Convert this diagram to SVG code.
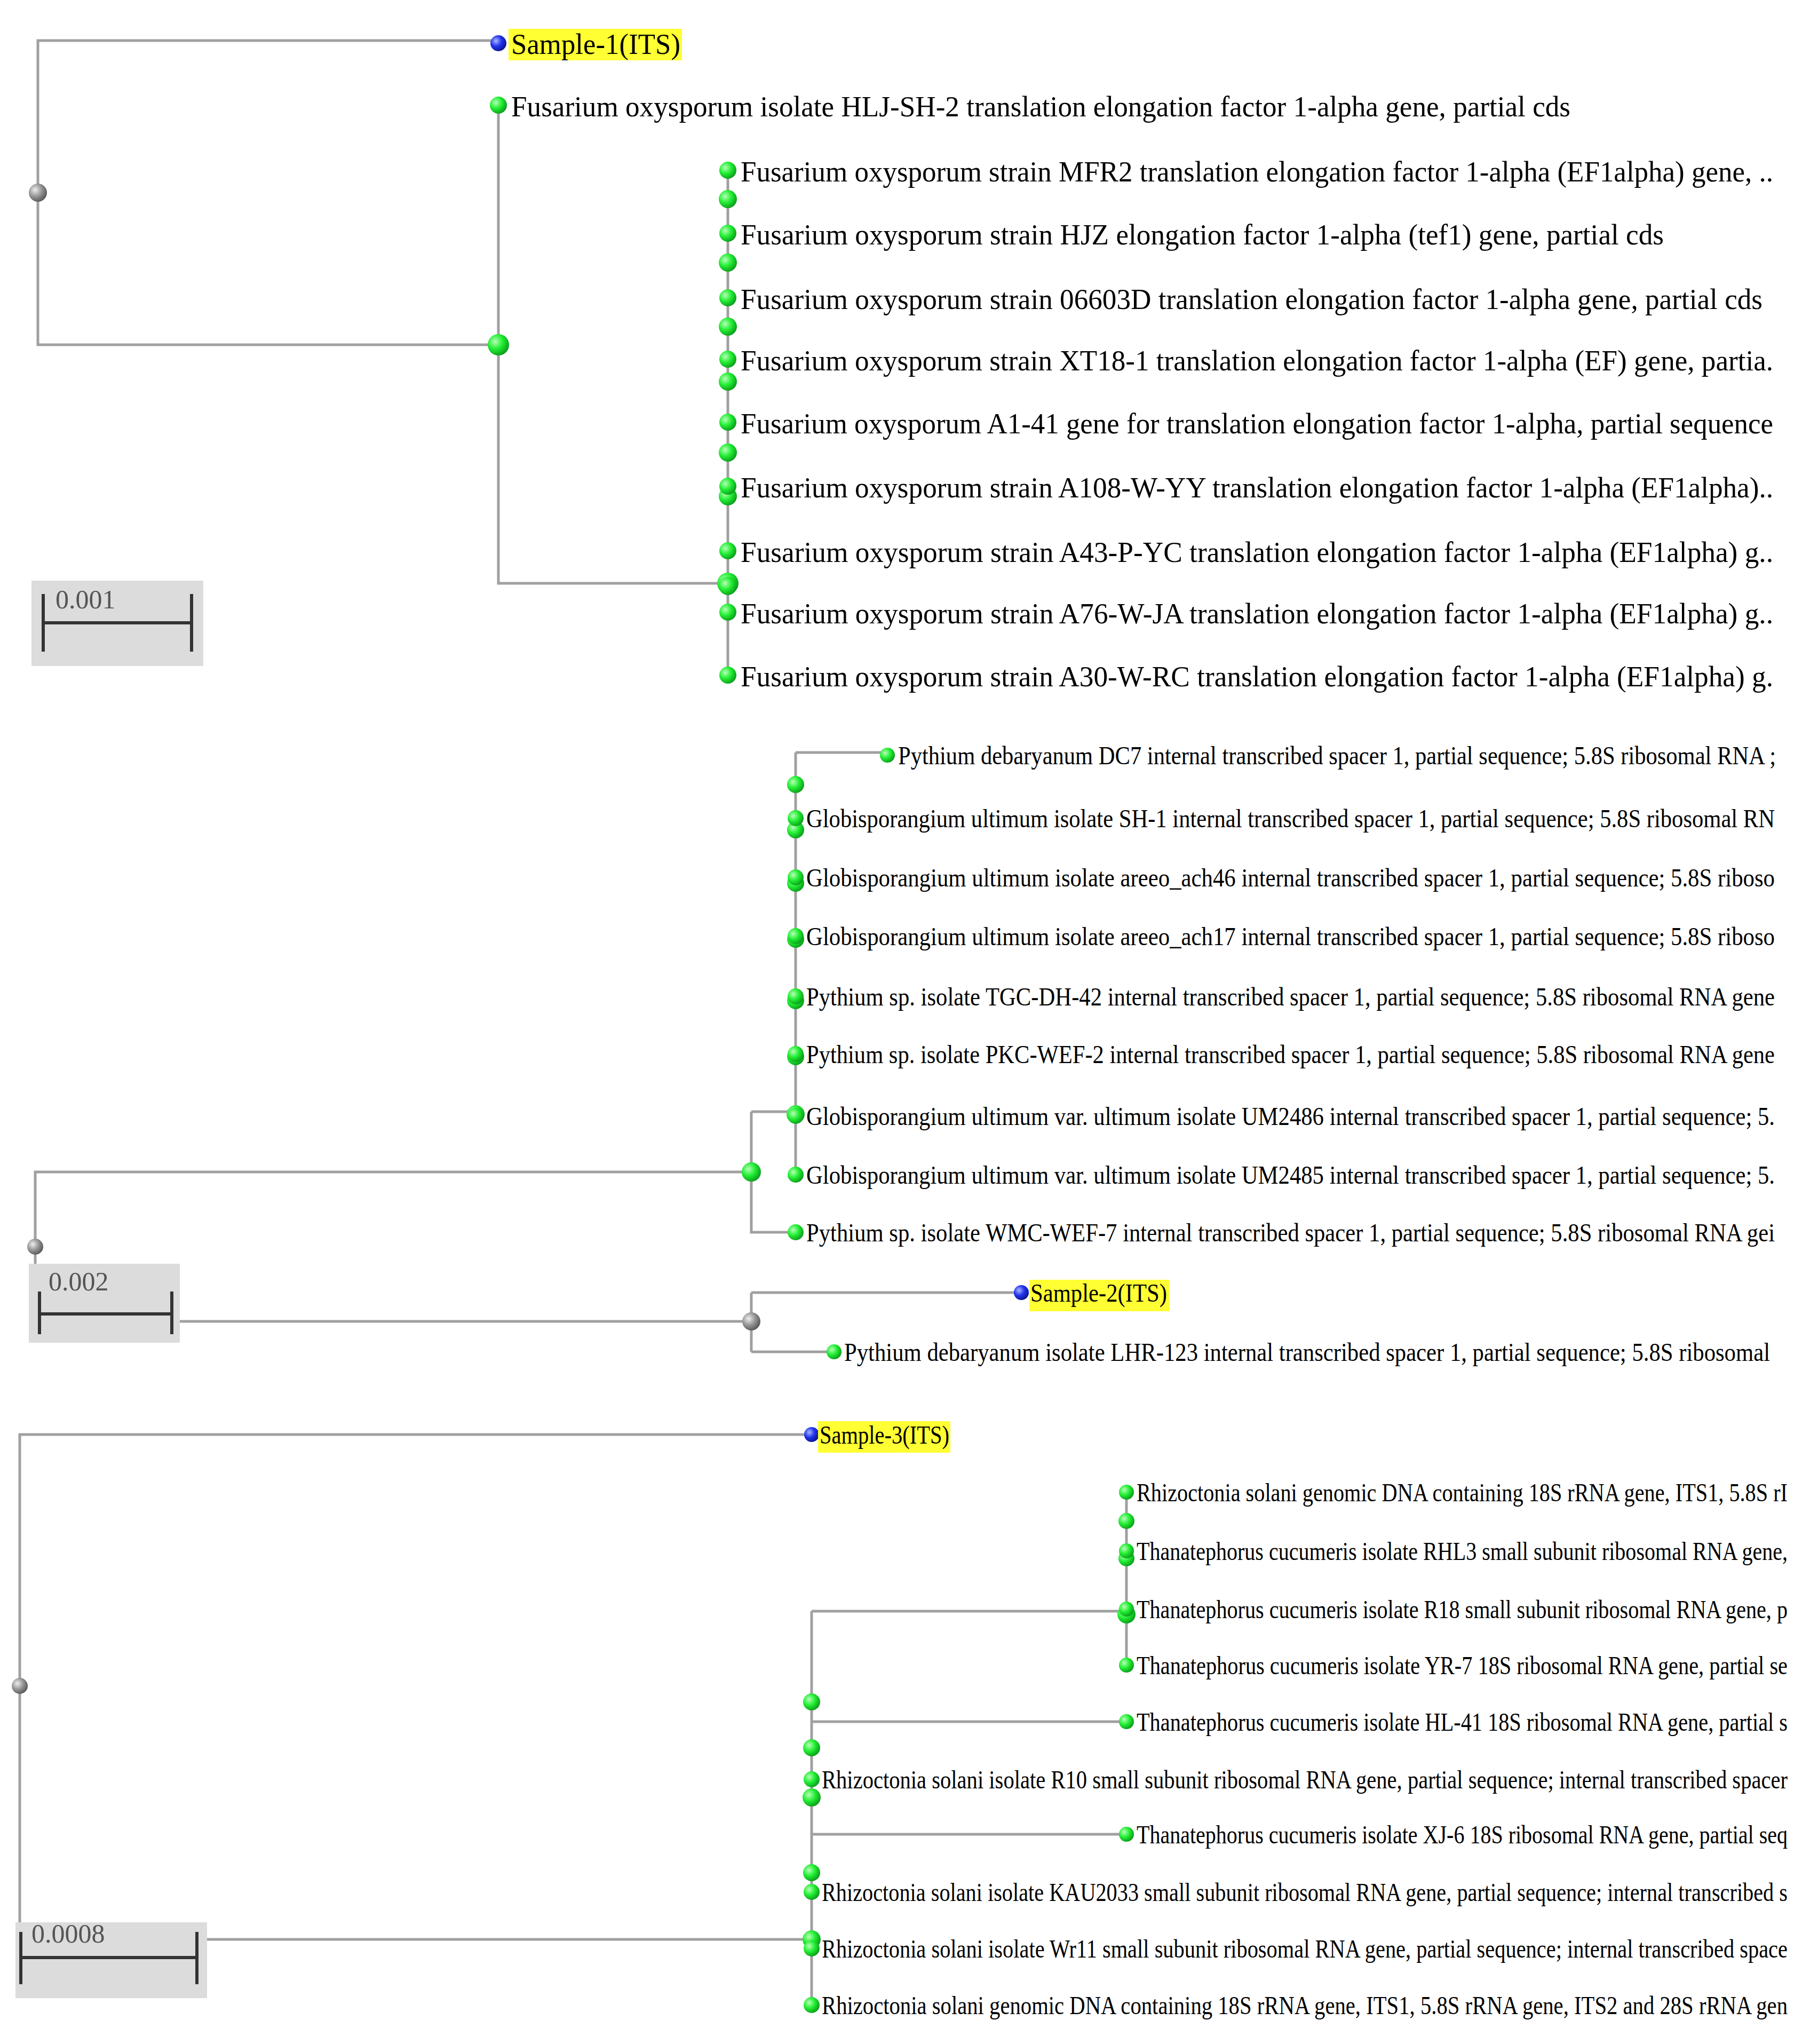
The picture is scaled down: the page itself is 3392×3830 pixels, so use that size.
<svg xmlns="http://www.w3.org/2000/svg" width="3392" height="3830" viewBox="0 0 3392 3830">
<style>
.ln{stroke:#a0a0a0;stroke-width:5;fill:none}
.g{fill:url(#gg)}
.b{fill:url(#bg)}
.k{fill:url(#kg)}
.t1{font-family:"Liberation Serif",serif;font-size:54px;fill:#000}
.t2{font-family:"Liberation Serif",serif;font-size:48px;fill:#000}
.hl{fill:#ffff33}
.sb{fill:#dcdcdc}
.bar{stroke:#333;stroke-width:6;fill:none}
.st{font-family:"Liberation Serif",serif;font-size:50px;fill:#555}
</style>
<defs>
<radialGradient id="gg" cx="0.35" cy="0.35" r="0.7"><stop offset="0" stop-color="#b8ffb8"/><stop offset="0.5" stop-color="#22ee33"/><stop offset="1" stop-color="#0a9a1a"/></radialGradient>
<radialGradient id="bg" cx="0.35" cy="0.35" r="0.7"><stop offset="0" stop-color="#aab8ff"/><stop offset="0.5" stop-color="#2233ee"/><stop offset="1" stop-color="#0a1488"/></radialGradient>
<radialGradient id="kg" cx="0.35" cy="0.35" r="0.7"><stop offset="0" stop-color="#eeeeee"/><stop offset="0.5" stop-color="#999999"/><stop offset="1" stop-color="#555555"/></radialGradient>
</defs>
<rect width="3392" height="3830" fill="#fff"/>
<g id="connectors">
<path class="ln" d="M71,361 V76 H934 M71,361 V646 H934 M934,197 V1093 H1364 M1364,319 V1265"/>
<g transform="translate(0,-10)">
<path class="ln" d="M66,2346 V2206 H1408 M66,2346 V2486 H1408 M1408,2093 V2319 H1491 M1408,2093 H1491 M1491,1420 V2211 M1491,1420 H1663 M1408,2432 V2543 M1408,2432 H1914 M1408,2543 H1563"/>
<path class="ln" d="M37,3169 V2698 H1521 M37,3169 V3644 H1521 M1521,3029 V3767 M1521,3029 H2111 M2111,2806 V3130 M1521,3236 H2111 M1521,3447 H2111"/>
</g>
</g>
<g id="scalebars">
<rect class="sb" x="59" y="1088" width="322" height="160"/>
<text class="st" x="104" y="1140">0.001</text>
<path class="bar" d="M81,1167 H359 M81,1113 V1221 M359,1113 V1221"/>
<g transform="translate(0,-10)">
<rect class="sb" x="54" y="2378" width="283" height="148"/>
<text class="st" x="91" y="2428">0.002</text>
<path class="bar" d="M74,2472 H322 M74,2430 V2510 M322,2430 V2510"/>
<rect class="sb" x="29" y="3612" width="359" height="142"/>
<text class="st" x="59" y="3650">0.0008</text>
<path class="bar" d="M39,3678 H369 M39,3630 V3728 M369,3630 V3728"/>
</g>
</g>
<g id="panel1">
<circle class="k" cx="71" cy="361" r="17"/>
<g id="s1"><circle class="b" cx="934" cy="81" r="15"/><rect class="hl" x="953" y="54" width="325" height="59"/><text class="t1" x="958" y="101" textLength="317" lengthAdjust="spacingAndGlyphs">Sample-1(ITS)</text></g>
<g id="n1"><circle class="g" cx="934" cy="197" r="16"/><text class="t1" x="958" y="218" textLength="1985" lengthAdjust="spacingAndGlyphs">Fusarium oxysporum isolate HLJ-SH-2 translation elongation factor 1-alpha gene, partial cds</text></g>
<circle class="g" cx="934" cy="646" r="20"/>
<circle class="g" cx="1364" cy="1093" r="20"/>
<g class="g"><circle cx="1364" cy="373" r="17"/><circle cx="1364" cy="492" r="17"/><circle cx="1364" cy="612" r="17"/><circle cx="1364" cy="715" r="17"/><circle cx="1364" cy="848" r="17"/><circle cx="1364" cy="930" r="17"/><circle cx="1364" cy="1098" r="17"/></g>
<g id="f1"><circle class="g" cx="1364" cy="319" r="16"/><text class="t1" x="1388" y="340" textLength="1935" lengthAdjust="spacingAndGlyphs">Fusarium oxysporum strain MFR2 translation elongation factor 1-alpha (EF1alpha) gene, ..</text></g>
<g id="f2"><circle class="g" cx="1364" cy="437" r="16"/><text class="t1" x="1388" y="458" textLength="1730" lengthAdjust="spacingAndGlyphs">Fusarium oxysporum strain HJZ elongation factor 1-alpha (tef1) gene, partial cds</text></g>
<g id="f3"><circle class="g" cx="1364" cy="558" r="16"/><text class="t1" x="1388" y="579" textLength="1915" lengthAdjust="spacingAndGlyphs">Fusarium oxysporum strain 06603D translation elongation factor 1-alpha gene, partial cds</text></g>
<g id="f4"><circle class="g" cx="1364" cy="673" r="16"/><text class="t1" x="1388" y="694" textLength="1935" lengthAdjust="spacingAndGlyphs">Fusarium oxysporum strain XT18-1 translation elongation factor 1-alpha (EF) gene, partia.</text></g>
<g id="f5"><circle class="g" cx="1364" cy="791" r="16"/><text class="t1" x="1388" y="812" textLength="1935" lengthAdjust="spacingAndGlyphs">Fusarium oxysporum A1-41 gene for translation elongation factor 1-alpha, partial sequence</text></g>
<g id="f6"><circle class="g" cx="1364" cy="911" r="16"/><text class="t1" x="1388" y="932" textLength="1935" lengthAdjust="spacingAndGlyphs">Fusarium oxysporum strain A108-W-YY translation elongation factor 1-alpha (EF1alpha)..</text></g>
<g id="f7"><circle class="g" cx="1364" cy="1032" r="16"/><text class="t1" x="1388" y="1053" textLength="1935" lengthAdjust="spacingAndGlyphs">Fusarium oxysporum strain A43-P-YC translation elongation factor 1-alpha (EF1alpha) g..</text></g>
<g id="f8"><circle class="g" cx="1364" cy="1147" r="16"/><text class="t1" x="1388" y="1168" textLength="1935" lengthAdjust="spacingAndGlyphs">Fusarium oxysporum strain A76-W-JA translation elongation factor 1-alpha (EF1alpha) g..</text></g>
<g id="f9"><circle class="g" cx="1364" cy="1265" r="16"/><text class="t1" x="1388" y="1286" textLength="1935" lengthAdjust="spacingAndGlyphs">Fusarium oxysporum strain A30-W-RC translation elongation factor 1-alpha (EF1alpha) g.</text></g>
</g>
<g id="panel2" transform="translate(0,-10)">
<circle class="k" cx="66" cy="2346" r="15"/>
<circle class="g" cx="1408" cy="2206" r="18"/>
<circle class="k" cx="1408" cy="2486" r="17"/>
<g class="g"><circle cx="1491" cy="1480" r="16"/><circle cx="1491" cy="1565" r="16"/><circle cx="1491" cy="1665" r="16"/><circle cx="1491" cy="1770" r="16"/><circle cx="1491" cy="1885" r="16"/><circle cx="1491" cy="1990" r="16"/><circle cx="1491" cy="2098" r="17"/></g>
<g id="p1"><circle class="g" cx="1663" cy="1425" r="14"/><text class="t2" x="1683" y="1442" textLength="1645" lengthAdjust="spacingAndGlyphs">Pythium debaryanum DC7 internal transcribed spacer 1, partial sequence; 5.8S ribosomal RNA ;</text></g>
<g id="p2"><circle class="g" cx="1491" cy="1543" r="15"/><text class="t2" x="1511" y="1560" textLength="1815" lengthAdjust="spacingAndGlyphs">Globisporangium ultimum isolate SH-1 internal transcribed spacer 1, partial sequence; 5.8S ribosomal RN</text></g>
<g id="p3"><circle class="g" cx="1491" cy="1654" r="15"/><text class="t2" x="1511" y="1671" textLength="1815" lengthAdjust="spacingAndGlyphs">Globisporangium ultimum isolate areeo_ach46 internal transcribed spacer 1, partial sequence; 5.8S riboso</text></g>
<g id="p4"><circle class="g" cx="1491" cy="1764" r="15"/><text class="t2" x="1511" y="1781" textLength="1815" lengthAdjust="spacingAndGlyphs">Globisporangium ultimum isolate areeo_ach17 internal transcribed spacer 1, partial sequence; 5.8S riboso</text></g>
<g id="p5"><circle class="g" cx="1491" cy="1877" r="15"/><text class="t2" x="1511" y="1894" textLength="1815" lengthAdjust="spacingAndGlyphs">Pythium sp. isolate TGC-DH-42 internal transcribed spacer 1, partial sequence; 5.8S ribosomal RNA gene</text></g>
<g id="p6"><circle class="g" cx="1491" cy="1985" r="15"/><text class="t2" x="1511" y="2002" textLength="1815" lengthAdjust="spacingAndGlyphs">Pythium sp. isolate PKC-WEF-2 internal transcribed spacer 1, partial sequence; 5.8S ribosomal RNA gene</text></g>
<g id="p7"><circle class="g" cx="1491" cy="2101" r="15"/><text class="t2" x="1511" y="2118" textLength="1815" lengthAdjust="spacingAndGlyphs">Globisporangium ultimum var. ultimum isolate UM2486 internal transcribed spacer 1, partial sequence; 5.</text></g>
<g id="p8"><circle class="g" cx="1491" cy="2211" r="15"/><text class="t2" x="1511" y="2228" textLength="1815" lengthAdjust="spacingAndGlyphs">Globisporangium ultimum var. ultimum isolate UM2485 internal transcribed spacer 1, partial sequence; 5.</text></g>
<g id="p9"><circle class="g" cx="1491" cy="2319" r="15"/><text class="t2" x="1511" y="2336" textLength="1815" lengthAdjust="spacingAndGlyphs">Pythium sp. isolate WMC-WEF-7 internal transcribed spacer 1, partial sequence; 5.8S ribosomal RNA gei</text></g>
<g id="s2"><circle class="b" cx="1914" cy="2432" r="14"/><rect class="hl" x="1929" y="2408" width="263" height="59"/><text class="t2" x="1931" y="2449" textLength="256" lengthAdjust="spacingAndGlyphs">Sample-2(ITS)</text></g>
<g id="p10"><circle class="g" cx="1563" cy="2543" r="14"/><text class="t2" x="1582" y="2560" textLength="1735" lengthAdjust="spacingAndGlyphs">Pythium debaryanum isolate LHR-123 internal transcribed spacer 1, partial sequence; 5.8S ribosomal</text></g>
</g>
<g id="panel3" transform="translate(0,-10)">
<circle class="k" cx="37" cy="3169" r="15"/>
<g id="s3"><circle class="b" cx="1521" cy="2698" r="14"/><rect class="hl" x="1533" y="2673" width="248" height="59"/><text class="t2" x="1536" y="2715" textLength="243" lengthAdjust="spacingAndGlyphs">Sample-3(ITS)</text></g>
<g class="g"><circle cx="2111" cy="2860" r="15"/><circle cx="2111" cy="2930" r="15"/><circle cx="2111" cy="3035" r="17"/><circle cx="1521" cy="3199" r="16"/><circle cx="1521" cy="3285" r="16"/><circle cx="1521" cy="3378" r="17"/><circle cx="1521" cy="3519" r="16"/><circle cx="1521" cy="3644" r="17"/></g>
<g id="r1"><circle class="g" cx="2111" cy="2806" r="14"/><text class="t2" x="2130" y="2823" textLength="1220" lengthAdjust="spacingAndGlyphs">Rhizoctonia solani genomic DNA containing 18S rRNA gene, ITS1, 5.8S rI</text></g>
<g id="r2"><circle class="g" cx="2111" cy="2916" r="14"/><text class="t2" x="2130" y="2933" textLength="1220" lengthAdjust="spacingAndGlyphs">Thanatephorus cucumeris isolate RHL3 small subunit ribosomal RNA gene,</text></g>
<g id="r3"><circle class="g" cx="2111" cy="3025" r="14"/><text class="t2" x="2130" y="3042" textLength="1220" lengthAdjust="spacingAndGlyphs">Thanatephorus cucumeris isolate R18 small subunit ribosomal RNA gene, p</text></g>
<g id="r4"><circle class="g" cx="2111" cy="3130" r="14"/><text class="t2" x="2130" y="3147" textLength="1220" lengthAdjust="spacingAndGlyphs">Thanatephorus cucumeris isolate YR-7 18S ribosomal RNA gene, partial se</text></g>
<g id="r5"><circle class="g" cx="2111" cy="3236" r="14"/><text class="t2" x="2130" y="3253" textLength="1220" lengthAdjust="spacingAndGlyphs">Thanatephorus cucumeris isolate HL-41 18S ribosomal RNA gene, partial s</text></g>
<g id="r6"><circle class="g" cx="1521" cy="3344" r="15"/><text class="t2" x="1540" y="3361" textLength="1810" lengthAdjust="spacingAndGlyphs">Rhizoctonia solani isolate R10 small subunit ribosomal RNA gene, partial sequence; internal transcribed spacer</text></g>
<g id="r7"><circle class="g" cx="2111" cy="3447" r="14"/><text class="t2" x="2130" y="3464" textLength="1220" lengthAdjust="spacingAndGlyphs">Thanatephorus cucumeris isolate XJ-6 18S ribosomal RNA gene, partial seq</text></g>
<g id="r8"><circle class="g" cx="1521" cy="3555" r="15"/><text class="t2" x="1540" y="3572" textLength="1810" lengthAdjust="spacingAndGlyphs">Rhizoctonia solani isolate KAU2033 small subunit ribosomal RNA gene, partial sequence; internal transcribed s</text></g>
<g id="r9"><circle class="g" cx="1521" cy="3661" r="15"/><text class="t2" x="1540" y="3678" textLength="1810" lengthAdjust="spacingAndGlyphs">Rhizoctonia solani isolate Wr11 small subunit ribosomal RNA gene, partial sequence; internal transcribed space</text></g>
<g id="r10"><circle class="g" cx="1521" cy="3767" r="15"/><text class="t2" x="1540" y="3784" textLength="1810" lengthAdjust="spacingAndGlyphs">Rhizoctonia solani genomic DNA containing 18S rRNA gene, ITS1, 5.8S rRNA gene, ITS2 and 28S rRNA gen</text></g>
</g>
</svg>
